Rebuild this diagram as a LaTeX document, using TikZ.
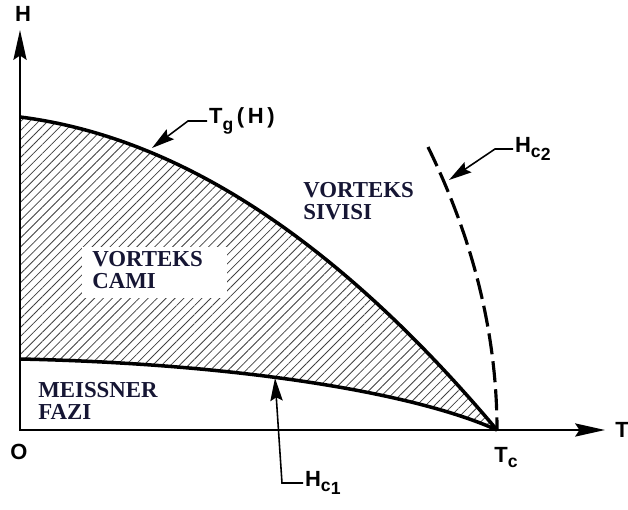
\documentclass[tikz,border=0pt]{standalone}
\usepackage{fontspec}
\setmainfont{Liberation Serif}
\setsansfont{Liberation Sans}
\usetikzlibrary{arrows.meta,patterns.meta}
\definecolor{phasenavy}{RGB}{22,22,52}
\newcommand{\dn}[2][0.45ex]{\raisebox{-#1}{\fontsize{10}{10}\selectfont #2}}
\tikzset{
  axis/.style={line width=1.1pt},
  phaseline/.style={line width=2pt},
  leader/.style={line width=0.9pt,-{Stealth[length=13pt,width=7pt,inset=2pt]}},
  lbl/.style={font=\sffamily\bfseries\fontsize{12.5}{13}\selectfont,inner sep=1pt},
  region/.style={font=\bfseries\fontsize{13}{12.5}\selectfont,text=phasenavy,align=left,inner sep=0pt}
}
\begin{document}
\begin{tikzpicture}
  \useasboundingbox (-0.4,-1.58) rectangle (12.16,8.6);
  % axes corner and ends
  \coordinate (O) at (0,0);
  \coordinate (Htop) at (0,8.0);
  \coordinate (Tend) at (11.7,0);
  \coordinate (Tc) at (9.54,0);
  % hatched vortex glass region
  \fill[pattern={Lines[angle=45,distance=3.6pt,line width=0.45pt]},pattern color=black!75]
    (0,6.26) .. controls (3.18,5.86) and (6.36,3.78) .. (Tc)
    .. controls (8.0,0.7) and (4.6,1.32) .. (0,1.42) -- cycle;
  \node[fill=white,minimum width=2.9cm,minimum height=1.02cm] (glassbox) at (2.69,3.15) {};
  \node[region,anchor=west] (glass) at (1.44,3.19) {VORTEKS\\CAMI};
  % phase lines
  \draw[phaseline] (0,6.26) .. controls (3.18,5.86) and (6.36,3.78) .. (Tc);
  \draw[phaseline] (0,1.42) .. controls (4.6,1.32) and (8.0,0.7) .. (Tc);
  \draw[line width=1.8pt,dash pattern=on 12pt off 4pt]
    (8.16,5.66) .. controls (9.08,3.78) and (9.54,1.88) .. (Tc);
  \draw[axis,{Stealth[length=17pt,width=7.5pt,inset=2.5pt]}-{Stealth[length=17pt,width=7.5pt,inset=2.5pt]}]
    (Htop) -- (O) -- (Tend);
  % axis labels
  \node[lbl] (hlbl) at (0.06,8.32) {H};
  \node[lbl] (tlbl) at (12.04,0) {T};
  \node[lbl] (olbl) at (-0.02,-0.44) {O};
  \node[lbl] (tclbl) at (9.72,-0.55) {T\dn{c}};
  % region names
  \node[region,anchor=west] (liquid) at (5.66,4.57) {VORTEKS\\SIVISI};
  \node[region,anchor=west] (meissner) at (0.36,0.58) {MEISSNER\\FAZI};
  % curve labels with leaders
  \coordinate (tgtip) at (2.64,5.64);
  \coordinate (tgknee) at (3.36,6.18);
  \node[lbl,anchor=west] (tg) at (3.74,6.18) {T\dn[0.6ex]{g}\,(\,H\,)};
  \draw[leader] (tg.west) -- (tgknee) -- (tgtip);
  \coordinate (hctwotip) at (8.58,5.0);
  \coordinate (hctwoknee) at (9.5,5.62);
  \node[lbl,anchor=west] (hctwo) at (9.86,5.62) {H\dn{c}\dn[0.7ex]{2}};
  \draw[leader] (hctwo.west) -- (hctwoknee) -- (hctwotip);
  \coordinate (hconetip) at (5.1,1.04);
  \coordinate (hconeknee) at (5.24,-1.06);
  \node[lbl,anchor=west] (hcone) at (5.66,-1.06) {H\dn{c}\dn[0.7ex]{1}};
  \draw[leader] (hcone.west) -- (hconeknee) -- (hconetip);
\end{tikzpicture}
\end{document}
